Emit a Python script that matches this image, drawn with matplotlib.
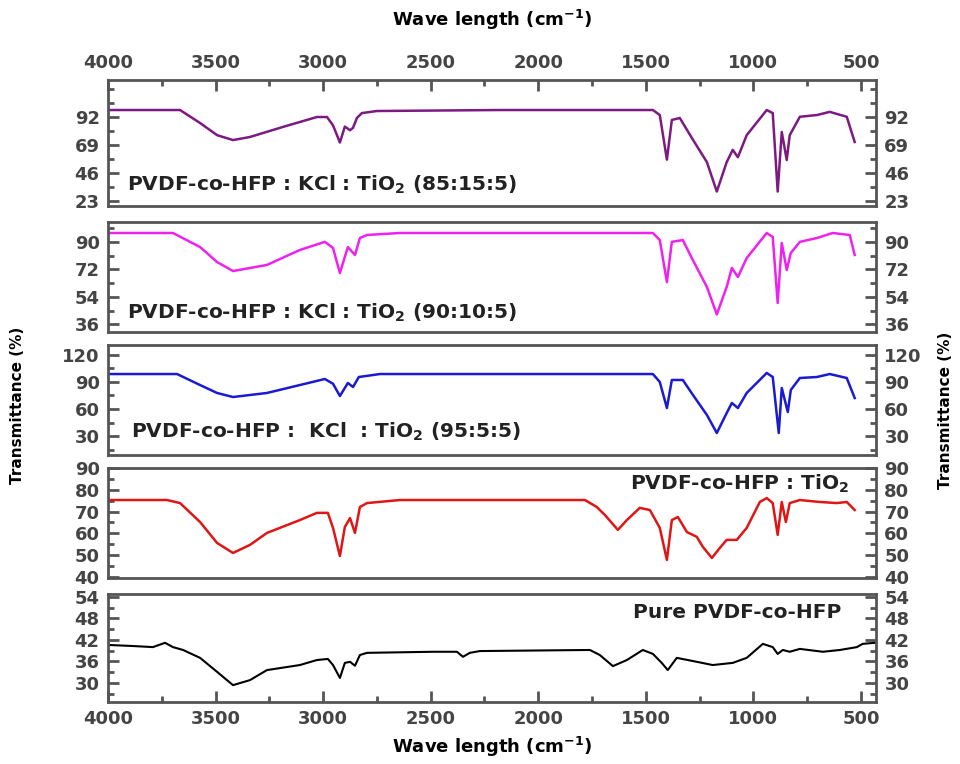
import numpy as np
import matplotlib
matplotlib.use('Agg')
import matplotlib.pyplot as plt
from matplotlib.ticker import MultipleLocator, FixedLocator

plt.rcParams['font.family'] = 'DejaVu Sans'
plt.rcParams['mathtext.fontset'] = 'dejavusans'
plt.rcParams['mathtext.default'] = 'bf'

# wavenumber (cm-1) / transmittance (%)
wn_85 = [4000, 3665, 3572, 3493, 3419, 3340, 3187, 3029, 2982, 2954, 2922, 2899, 2875, 2861, 2843,
         2820, 2750, 2178, 1467, 1435, 1402, 1379, 1342, 1286, 1216, 1170, 1124, 1096, 1072, 1031,
         938, 910, 887, 868, 845, 831, 784, 705, 645, 566, 529]
t_85 = [97.5, 97.5, 86.9, 77, 73, 75.5, 83.7, 91.8, 91.8, 85, 71, 84, 81, 83, 91,
        95, 96.7, 97.5, 97.5, 93.4, 57, 89.4, 91, 74.7, 55, 31, 55, 65, 59, 77,
        97.5, 95, 31, 79.6, 56.7, 77, 92, 93.4, 96, 92, 71.4]

wn_90 = [4000, 3698, 3572, 3493, 3419, 3261, 3108, 2992, 2954, 2922, 2885, 2852, 2829, 2796, 2643,
         1467, 1435, 1402, 1379, 1328, 1281, 1216, 1170, 1124, 1100, 1072, 1031, 938, 910, 887,
         868, 845, 826, 784, 705, 631, 552, 529]
t_90 = [95.8, 95.8, 86.6, 76.8, 70.9, 74.9, 84.7, 90, 86, 69.6, 86.6, 81.4, 92.5, 94.5, 95.8,
        95.8, 91.2, 63.7, 90, 91.2, 78, 60.5, 42.5, 60.5, 72.9, 67, 79.4, 95.8, 93.2, 50,
        89.3, 71.6, 82.7, 90, 92.5, 95.8, 94.5, 81.4]

wn_95 = [4000, 3679, 3572, 3493, 3419, 3261, 3108, 2992, 2954, 2922, 2885, 2861, 2834, 2736, 1467,
         1435, 1402, 1379, 1328, 1281, 1216, 1170, 1124, 1100, 1072, 1031, 938, 910, 882, 868,
         840, 826, 784, 705, 645, 566, 529]
t_95 = [98.8, 98.8, 86.6, 77.8, 73.3, 77.8, 86.6, 93.3, 88, 74.4, 88.9, 84.4, 95.5, 98.8, 98.8,
        90, 61.1, 92.2, 92.2, 75.6, 53.4, 33.4, 55.6, 66.7, 61.1, 77.8, 100, 95.5, 33.4, 83.3,
        56.7, 81.1, 94.4, 95.5, 98.8, 94.4, 72.2]

wn_tio2 = [4000, 3726, 3665, 3572, 3493, 3419, 3340, 3261, 3108, 3029, 2978, 2954, 2922, 2899, 2875,
           2852, 2829, 2796, 2643, 1783, 1728, 1690, 1630, 1588, 1528, 1481, 1435, 1402, 1379, 1351,
           1309, 1263, 1235, 1193, 1156, 1124, 1077, 1031, 970, 938, 910, 887, 868, 849, 831,
           784, 691, 612, 566, 529]
t_tio2 = [75.3, 75.3, 73.9, 65.2, 55.6, 51, 54.7, 60.2, 66.1, 69.4, 69.4, 62.5, 49.6, 62.9, 67,
          60.2, 72.1, 73.9, 75.3, 75.3, 72.1, 68.4, 61.6, 66.1, 71.7, 70.7, 62.5, 47.8, 66.1, 67.5,
          60.6, 58.4, 53.8, 48.7, 53.3, 57, 57, 62.5, 74.4, 76.2, 73.9, 59.3, 74.4, 65.2, 73.9,
          75.3, 74.4, 73.9, 74.4, 70.7]

wn_pure = [4000, 3884, 3791, 3735, 3698, 3651, 3572, 3493, 3419, 3340, 3261, 3108, 3029, 2978, 2954,
           2922, 2899, 2875, 2852, 2829, 2796, 2490, 2378, 2350, 2318, 2271, 1760, 1714, 1653, 1588,
           1514, 1467, 1426, 1398, 1356, 1263, 1189, 1096, 1031, 956, 910, 887, 863, 831, 784,
           677, 598, 519, 492, 436]
t_pure = [40.6, 40.3, 40, 41.2, 40, 39.2, 37, 33.1, 29.4, 30.8, 33.6, 35, 36.4, 36.7, 35,
          31.4, 35.6, 35.9, 34.8, 37.8, 38.4, 38.7, 38.7, 37.3, 38.4, 38.9, 39.2, 37.8, 34.7, 36.4,
          39.2, 38.1, 35.6, 33.6, 37, 35.9, 35, 35.6, 37, 40.9, 40, 38.1, 39.2, 38.7, 39.5,
          38.7, 39.2, 40, 40.9, 41.2]

labels = [r'PVDF-co-HFP : KCl : TiO$_2$ (85:15:5)',
          r'PVDF-co-HFP : KCl : TiO$_2$ (90:10:5)',
          r'PVDF-co-HFP :  KCl  : TiO$_2$ (95:5:5)',
          r'PVDF-co-HFP : TiO$_2$',
          'Pure PVDF-co-HFP']
yticks = [[23, 46, 69, 92], [36, 54, 72, 90], [30, 60, 90, 120],
          [40, 50, 60, 70, 80, 90], [30, 36, 42, 48, 54]]

series = [(wn_85, t_85), (wn_90, t_90), (wn_95, t_95), (wn_tio2, t_tio2), (wn_pure, t_pure)]
colors = ['#7d1a82', '#ee22ee', '#1a1ad2', '#e01515', 'black']
ylims = [(19.2, 122), (31, 103), (9, 131), (39.5, 90), (24.7, 54.8)]
# panel boxes in pixels (top, bottom)
boxes = [(80, 206), (222, 332), (345, 455), (468, 578), (594, 702)]
lab_pos = [(0.025, 0.17, 'left'), (0.025, 0.17, 'left'), (0.03, 0.21, 'left'),
           (0.965, 0.86, 'right'), (0.955, 0.83, 'right')]

W, H = 960, 764
fig = plt.figure(figsize=(9.6, 7.64), dpi=100)
grey = '#555555'

axes = []
for i in range(5):
    top, bot = boxes[i]
    ax = fig.add_axes([108 / W, 1 - bot / H, 768 / W, (bot - top) / H])
    wn, tr = series[i]
    ax.plot(wn, tr, color=colors[i], lw=1.8 if i < 4 else 1.5)
    ax.set_xlim(4000, 430)
    ax.set_ylim(*ylims[i])
    for s in ax.spines.values():
        s.set_color(grey)
        s.set_linewidth(2)
    ax.yaxis.set_major_locator(FixedLocator(yticks[i]))
    step = yticks[i][1] - yticks[i][0]
    ax.yaxis.set_minor_locator(MultipleLocator(step / 2))
    ax.tick_params(axis='y', which='both', direction='in', left=True, right=True,
                   labelleft=True, labelright=True, color=grey, width=2,
                   labelsize=13, labelcolor='#444444', pad=6)
    ax.tick_params(axis='y', which='major', length=8)
    ax.tick_params(axis='y', which='minor', length=4)
    for t in ax.get_yticklabels():
        t.set_fontweight('bold')
    ax.xaxis.set_major_locator(MultipleLocator(500))
    ax.xaxis.set_minor_locator(MultipleLocator(250))
    ax.tick_params(axis='x', which='both', direction='in', top=False, bottom=False,
                   labelbottom=False, labeltop=False, color=grey, width=2,
                   labelsize=13, labelcolor='#444444', pad=6)
    ax.tick_params(axis='x', which='major', length=8)
    ax.tick_params(axis='x', which='minor', length=4)
    lx, ly, ha = lab_pos[i]
    ax.text(lx, ly, labels[i], transform=ax.transAxes, ha=ha, va='center',
            fontsize=14.5, fontweight='bold', color='#222222')
    axes.append(ax)

# top axis on first panel, bottom axis on last panel
axes[0].tick_params(axis='x', which='both', top=True, labeltop=True)
axes[0].xaxis.set_label_position('top')
axes[0].set_xlabel(r'Wave length (cm$^{-1}$)', fontsize=13, fontweight='bold', labelpad=20)
axes[4].tick_params(axis='x', which='both', bottom=True, labelbottom=True)
axes[4].set_xlabel(r'Wave length (cm$^{-1}$)', fontsize=13, fontweight='bold', labelpad=5)
for ax in (axes[0], axes[4]):
    ax.xaxis.set_major_formatter(plt.FuncFormatter(lambda v, p: '%d' % v if v >= 500 else ''))
    for t in ax.get_xticklabels():
        t.set_fontweight('bold')

fig.text(18 / W, 1 - 405 / H, 'Transmittance (%)', rotation=90, ha='center', va='center',
         fontsize=11, fontweight='bold')
fig.text(945 / W, 1 - 410 / H, 'Transmittance (%)', rotation=90, ha='center', va='center',
         fontsize=11, fontweight='bold')

fig.savefig('out.png', dpi=100)
